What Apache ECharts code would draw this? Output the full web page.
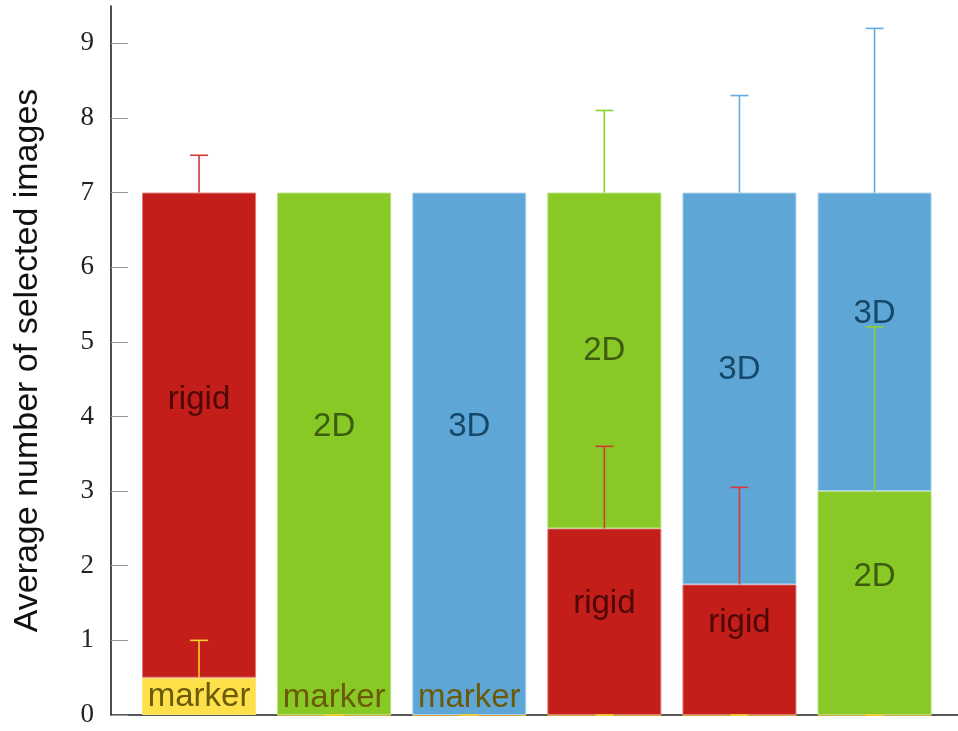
<!DOCTYPE html>
<html>
<head>
<meta charset="utf-8">
<script src="https://cdn.jsdelivr.net/npm/echarts@6/dist/echarts.min.js"></script>
<style>
  html, body { margin: 0; padding: 0; background: #fff; }
  #chart { width: 958px; height: 731px; }
</style>
</head>
<body>
<div id="chart"></div>
<script>
// Conditions (one stacked column each)
var conditions = ['c1', 'c2', 'c3', 'c4', 'c5', 'c6'];

// Average number of selected images per component
var markerVals = [0.5, 0, 0, 0, 0, 0];
var rigidVals  = [6.5, 0, 0, 2.5, 1.75, 0];
var twoDVals   = [0, 7, 0, 4.5, 0, 3];
var threeDVals = [0, 0, 7, 0, 5.25, 4];

// Upper error (added on top of each stacked segment)
var markerErr = [0.5, 0, 0, 0, 0, 0];
var rigidErr  = [0.5, 0, 0, 1.1, 1.3, 0];
var twoDErr   = [0, 0, 0, 1.1, 0, 2.2];
var threeDErr = [0, 0, 0, 0, 1.3, 2.2];

// Y axis tick labels
var yTicks = [0, 1, 2, 3, 4, 5, 6, 7, 8, 9];

var layers = [
  { name: 'marker', vals: markerVals, err: markerErr, color: '#fde04a', text: '#6b5a08', errColor: '#f7cf2e', edge: '#fbe37a', baseEdge: '#d2a53a' },
  { name: 'rigid',  vals: rigidVals,  err: rigidErr,  color: '#c41e1a', text: '#4e0806', errColor: '#d23a36', edge: '#e07a76' },
  { name: '2D',     vals: twoDVals,   err: twoDErr,   color: '#89c925', text: '#3d5c10', errColor: '#8fd02e', edge: '#b3e07a' },
  { name: '3D',     vals: threeDVals, err: threeDErr, color: '#5ea6d6', text: '#164868', errColor: '#62ace0', edge: '#a9d2ee' }
];

// vertical nudge of the in-bar labels (px)
var labelLift = {
  'rigid': [-35, 0, 0, -18, -27, 0],
  '2D':    [0, -27, 0, -10, 0, -26],
  '3D':    [0, 0, -27, 0, -19, -28]
};
var markerLabelShown = [true, true, true, false, false, false];

var labelFont = 'Liberation Sans, Arial, sans-serif';

var barSeries = layers.map(function (L) {
  return {
    type: 'bar',
    name: L.name,
    stack: 'total',
    xAxisIndex: 1,
    yAxisIndex: 1,
    barWidth: 114,
    itemStyle: { color: L.color, borderColor: L.edge, borderWidth: 1 },
    silent: true,
    data: L.vals.map(function (v, i) {
      var item = { value: v };
      if (L.name === 'marker') {
        item.label = {
          show: markerLabelShown[i],
          position: 'insideBottom',
          distance: 2
        };
        if (v === 0) item.itemStyle = { borderColor: L.baseEdge, borderWidth: 2 };
      } else {
        item.label = {
          show: v > 0,
          position: 'inside',
          offset: [0, labelLift[L.name][i]]
        };
        if (v === 0) item.itemStyle = { borderWidth: 0 };
      }
      return item;
    }),
    label: {
      formatter: L.name,
      color: L.text,
      fontSize: 33,
      fontFamily: labelFont
    }
  };
});

// error whiskers on top of each stacked segment
var errData = [];
var running = conditions.map(function () { return 0; });
layers.forEach(function (L, s) {
  conditions.forEach(function (c, i) {
    running[i] += L.vals[i];
    var top = running[i];
    if (L.err[i] > 0 || L.name === 'marker') {
      errData.push([i, top, top + L.err[i], s]);
    }
  });
});

var errSeries = {
  type: 'custom',
  xAxisIndex: 1,
  yAxisIndex: 1,
  silent: true,
  z: 5,
  data: errData,
  renderItem: function (params, api) {
    var i = api.value(0);
    var p0 = api.coord([i, api.value(1)]);
    var p1 = api.coord([i, api.value(2)]);
    var col = layers[api.value(3)].errColor;
    var half = 9;
    var st = { stroke: col, lineWidth: 1.6 };
    return {
      type: 'group',
      children: [
        { type: 'line', shape: { x1: p0[0], y1: p0[1], x2: p1[0], y2: p1[1] }, style: st },
        { type: 'line', shape: { x1: p1[0] - half, y1: p1[1], x2: p1[0] + half, y2: p1[1] }, style: st }
      ]
    };
  }
};

var chart = echarts.init(document.getElementById('chart'), null, { renderer: 'canvas' });
chart.setOption({
  animation: false,
  backgroundColor: '#ffffff',
  grid: [
    { left: 111, right: 0, top: 6, bottom: 16 },
    { left: 131.5, right: 15.9, top: 6, bottom: 16 }
  ],
  xAxis: [
    {
      gridIndex: 0, type: 'value', min: 0, max: 1,
      axisLine: { show: true, lineStyle: { color: '#222', width: 1.6 } },
      axisTick: { show: false }, axisLabel: { show: false }, splitLine: { show: false }
    },
    {
      gridIndex: 1, type: 'category', data: conditions,
      axisLine: { show: false }, axisTick: { show: false }, axisLabel: { show: false }, splitLine: { show: false }
    }
  ],
  yAxis: [
    {
      gridIndex: 0, type: 'value', min: 0, max: 9.5, interval: 1,
      name: 'Average number of selected images',
      nameLocation: 'middle',
      nameGap: 66,
      nameTextStyle: { fontSize: 34, color: '#111', fontFamily: labelFont },
      axisLine: { show: true, lineStyle: { color: '#222', width: 1.6 } },
      axisTick: { show: true, inside: true, length: 17, customValues: yTicks, lineStyle: { color: '#999', width: 1 } },
      axisLabel: {
        customValues: yTicks, margin: 17, fontSize: 27, color: '#222',
        fontFamily: 'Liberation Serif, Times New Roman, serif'
      },
      splitLine: { show: false }
    },
    {
      gridIndex: 1, type: 'value', min: 0, max: 9.5,
      axisLine: { show: false }, axisTick: { show: false }, axisLabel: { show: false }, splitLine: { show: false }
    }
  ],
  series: barSeries.concat([errSeries])
});
</script>
</body>
</html>
